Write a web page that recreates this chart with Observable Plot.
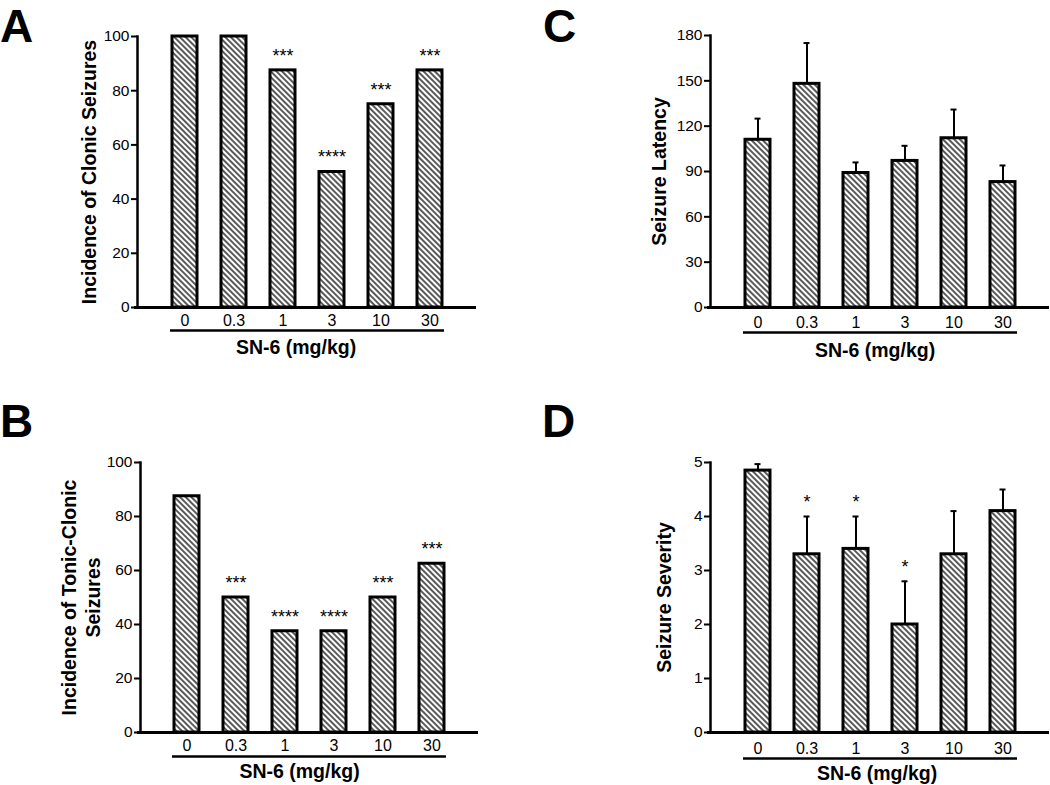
<!DOCTYPE html>
<html><head><meta charset="utf-8">
<script src="https://cdn.jsdelivr.net/npm/d3@7"></script>
<script src="https://cdn.jsdelivr.net/npm/@observablehq/plot@0.6"></script>
<style>
body{margin:0;background:#fff;}
#fig{position:relative;width:1050px;height:785px;overflow:hidden;background:#fff;font-family:"Liberation Sans",Arial,sans-serif;}
#fig svg{position:absolute;}
.letter{position:absolute;font-weight:bold;font-size:46px;line-height:46px;color:#000;}
</style></head><body><div id="fig"></div>
<script>
// ---- data ----
const doses = ["0", "0.3", "1", "3", "10", "30"];
const xTitle = "SN-6 (mg/kg)";

const clonicIncidence = [100, 100, 87.5, 50, 75, 87.5];
const clonicSig = ["", "", "***", "****", "***", "***"];

const tonicIncidence = [87.5, 50, 37.5, 37.5, 50, 62.5];
const tonicSig = ["", "***", "****", "****", "***", "***"];

const latencyMean = [111, 148, 89, 97, 112, 83];
const latencySem = [14, 27, 7, 10, 19, 11];

const severityMean = [4.85, 3.3, 3.4, 2.0, 3.3, 4.1];
const severitySem = [0.12, 0.7, 0.6, 0.8, 0.8, 0.4];
const severitySig = ["", "*", "*", "*", "", ""];

const ticksPercent = [0, 20, 40, 60, 80, 100];
const ticksLatency = [0, 30, 60, 90, 120, 150, 180];
const ticksSeverity = [0, 1, 2, 3, 4, 5];

const fig = document.getElementById("fig");

function panel(cfg) {
  const rows = doses.map((d, i) => ({
    dose: d,
    value: cfg.values[i],
    sem: cfg.sems ? cfg.sems[i] : 0,
    sig: cfg.sigs ? cfg.sigs[i] : ""
  }));
  const marks = [
    Plot.barY(rows, {x: "dose", y: "value", fill: `url(#${cfg.id})`, stroke: "black", strokeWidth: 3}),
  ];
  if (cfg.sems) {
    marks.push(
      Plot.ruleX(rows, {x: "dose", y1: "value", y2: d => d.value + d.sem, stroke: "black", strokeWidth: 2}),
      Plot.tickY(rows, {x: "dose", y: d => d.value + d.sem, stroke: "black", strokeWidth: 2, insetLeft: 9.5, insetRight: 9.5})
    );
  }
  marks.push(
    Plot.text(rows.filter(d => d.sig), {x: "dose", y: d => d.value + d.sem, text: "sig", dy: -14.5, fontSize: 18, lineAnchor: "middle", fill: "black"}),
    Plot.ruleY([0], {stroke: "black", strokeWidth: 3, insetLeft: -3}),
    Plot.frame({anchor: "left", stroke: "black", strokeWidth: 2.5}),
    Plot.ruleY([{y: 0, a: doses[0], b: doses[doses.length - 1]}], {y: "y", x1: "a", x2: "b", dy: cfg.underlineDy, stroke: "black", strokeWidth: 2.5, insetLeft: -2, insetRight: -2}),
    // y ticks (marks) and labels
    Plot.axisY({ticks: cfg.yTicks, tickFormat: () => "", tickSize: 6, tickPadding: 0, label: null, strokeWidth: 2}),
    Plot.text(cfg.yTicks, {y: d => d, text: d => String(d), frameAnchor: "left", textAnchor: "end", lineAnchor: "middle", dx: -8, fontSize: 15.5, fill: "black"}),
    // x tick labels
    Plot.text(doses, {x: d => d, text: d => d, frameAnchor: "bottom", textAnchor: "middle", lineAnchor: "middle", dy: cfg.tickDy, fontSize: 16, fill: "black"}),
    Plot.text([cfg.yTitle], {text: d => d, frameAnchor: "left", textAnchor: "middle", rotate: -90, dx: cfg.yTitleDx, fontSize: 19.5, fontWeight: "bold", lineAnchor: "middle", lineHeight: 1.25, fill: "black"}),
    Plot.text([xTitle], {text: d => d, frameAnchor: "bottom", textAnchor: "middle", dy: cfg.xTitleDy, dx: cfg.xTitleDx, fontSize: 19.5, fontWeight: "bold", lineAnchor: "middle", fill: "black"})
  );
  const svg = Plot.plot({
    width: cfg.width,
    height: cfg.height,
    marginLeft: cfg.mL,
    marginRight: cfg.mR,
    marginTop: cfg.mT,
    marginBottom: cfg.mB,
    style: {fontFamily: '"Liberation Sans", Arial, sans-serif', fontSize: "15px", color: "black", background: "transparent", overflow: "visible"},
    x: {domain: doses, paddingInner: 0.5, paddingOuter: 0.25, insetLeft: 22, insetRight: 22, axis: null},
    y: {domain: cfg.yDomain},
    marks
  });
  d3.select(svg).insert("defs", ":first-child").html(
    `<pattern id="${cfg.id}" width="4" height="10" patternUnits="userSpaceOnUse" patternTransform="rotate(-45)">
       <rect width="4" height="10" fill="white"></rect>
       <line x1="1" y1="0" x2="1" y2="10" stroke="black" stroke-width="1.3"></line>
     </pattern>`
  );
  svg.style.left = cfg.left + "px";
  svg.style.top = cfg.top + "px";
  fig.appendChild(svg);

  const L = document.createElement("div");
  L.className = "letter";
  L.textContent = cfg.letter;
  L.style.left = cfg.letterLeft + "px";
  L.style.top = cfg.letterTop + "px";
  fig.appendChild(L);
}

panel({id: "hA", letter: "A", letterLeft: 0, letterTop: 3,
  values: clonicIncidence, sigs: clonicSig,
  left: 0, top: 0, width: 525, height: 392, mL: 137, mR: 49, mT: 36, mB: 85,
  yDomain: [0, 100], yTicks: ticksPercent, yTitle: "Incidence of Clonic Seizures", yTitleDx: -49,
  underlineDy: 23, xTitleDy: 40, xTitleDx: -11, tickDy: 13});

panel({id: "hC", letter: "C", letterLeft: 543, letterTop: 3,
  values: latencyMean, sems: latencySem,
  left: 525, top: 0, width: 525, height: 392, mL: 185, mR: 1, mT: 35, mB: 85,
  yDomain: [0, 180], yTicks: ticksLatency, yTitle: "Seizure Latency", yTitleDx: -52,
  underlineDy: 25, xTitleDy: 43, xTitleDx: -5, tickDy: 15});

panel({id: "hB", letter: "B", letterLeft: 0, letterTop: 398,
  values: tonicIncidence, sigs: tonicSig,
  left: 0, top: 392, width: 525, height: 393, mL: 140, mR: 47, mT: 70, mB: 53,
  yDomain: [0, 100], yTicks: ticksPercent, yTitle: "Incidence of Tonic-Clonic\nSeizures", yTitleDx: -60,
  underlineDy: 24, xTitleDy: 39, xTitleDx: -10, tickDy: 13});

panel({id: "hD", letter: "D", letterLeft: 542, letterTop: 398,
  values: severityMean, sems: severitySem, sigs: severitySig,
  left: 525, top: 392, width: 525, height: 393, mL: 185, mR: 1, mT: 70, mB: 53,
  yDomain: [0, 5], yTicks: ticksSeverity, yTitle: "Seizure Severity", yTitleDx: -47,
  underlineDy: 26, xTitleDy: 41, xTitleDx: -3, tickDy: 16});
</script>
</body></html>
